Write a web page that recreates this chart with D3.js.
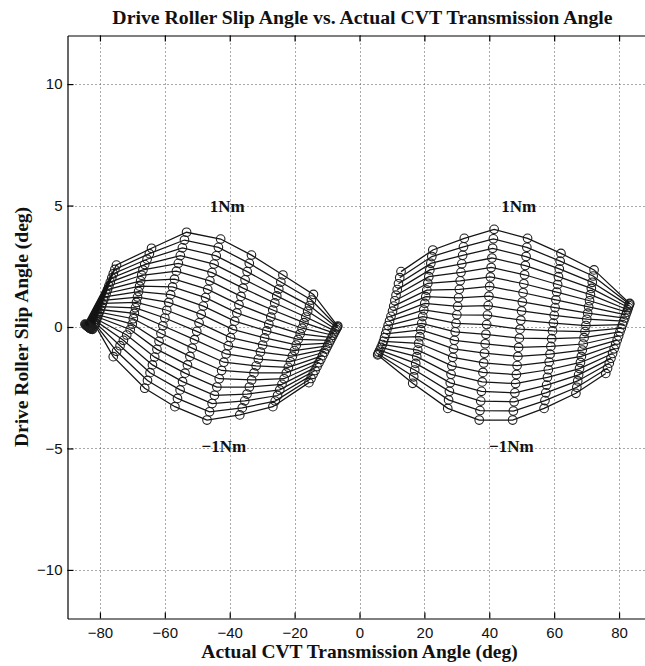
<!DOCTYPE html>
<html>
<head>
<meta charset="utf-8">
<script src="https://cdn.jsdelivr.net/npm/d3@7"></script>
<style>
  body { margin: 0; background: #fff; }
  svg { display: block; }
</style>
</head>
<body>
<script>
// Input torque levels (Nm); each level is one curve through every station.
const torques = [-1.0,-0.9,-0.8,-0.7,-0.6,-0.5,-0.4,-0.3,-0.2,-0.1,0.0,0.1,0.2,0.3,0.4,0.5,0.6,0.7,0.8,0.9,1.0];

// Negative-angle branch: one row per commanded angle station, values ordered -1Nm .. 1Nm.
const leftAngle = [
  [-82.3,-82.5,-82.6,-82.8,-82.9,-83.0,-83.1,-83.2,-83.3,-83.4,-83.5,-83.6,-83.7,-83.8,-83.9,-84.0,-84.1,-84.2,-84.3,-84.5,-84.6],
  [-81.60,-81.52,-81.39,-81.21,-81.00,-80.76,-80.50,-80.21,-79.90,-79.58,-79.23,-78.87,-78.48,-78.09,-77.67,-77.25,-76.80,-76.35,-75.88,-75.40,-74.90],
  [-75.90,-74.87,-73.80,-72.77,-71.74,-70.67,-70.03,-69.71,-69.39,-69.06,-68.74,-68.42,-68.09,-67.77,-67.45,-67.12,-66.75,-66.20,-65.47,-64.77,-64.10],
  [-66.20,-65.35,-64.56,-63.82,-63.12,-62.43,-61.78,-61.19,-60.59,-60.00,-59.40,-58.81,-58.21,-57.62,-57.02,-56.43,-55.83,-55.22,-54.59,-53.95,-53.30],
  [-56.90,-56.10,-55.29,-54.54,-53.78,-53.03,-52.27,-51.57,-50.86,-50.16,-49.45,-48.80,-48.14,-47.44,-46.78,-46.13,-45.47,-44.82,-44.16,-43.49,-42.80],
  [-47.00,-46.22,-45.43,-44.70,-43.96,-43.23,-42.49,-41.81,-41.12,-40.44,-39.75,-39.12,-38.48,-37.80,-37.16,-36.53,-35.89,-35.26,-34.62,-33.97,-33.30],
  [-36.90,-36.14,-35.37,-34.66,-33.94,-33.23,-32.51,-31.85,-31.18,-30.52,-29.85,-29.24,-28.62,-27.96,-27.34,-26.73,-26.11,-25.50,-24.88,-24.25,-23.60],
  [-26.70,-25.98,-25.25,-24.58,-23.90,-23.23,-22.55,-21.93,-21.30,-20.68,-20.05,-19.48,-18.90,-18.28,-17.70,-17.13,-16.55,-15.98,-15.40,-14.81,-14.20],
  [-15.60,-14.94,-14.30,-13.68,-13.07,-12.49,-11.92,-11.36,-10.84,-10.33,-9.85,-9.39,-8.95,-8.54,-8.16,-7.81,-7.49,-7.22,-6.98,-6.80,-6.70]
];
const leftSlip = [
  [-0.10,-0.09,-0.08,-0.07,-0.06,-0.05,-0.04,-0.03,-0.02,-0.01,0.00,0.01,0.02,0.03,0.04,0.05,0.06,0.08,0.09,0.10,0.12],
  [0.10,0.13,0.18,0.24,0.32,0.41,0.50,0.61,0.72,0.84,0.97,1.10,1.24,1.38,1.54,1.69,1.85,2.02,2.19,2.37,2.55],
  [-1.22,-1.00,-0.77,-0.55,-0.33,-0.10,0.12,0.34,0.56,0.79,1.01,1.23,1.46,1.68,1.90,2.13,2.35,2.57,2.79,3.02,3.24],
  [-2.52,-2.20,-1.88,-1.56,-1.24,-0.92,-0.59,-0.27,0.05,0.37,0.69,1.01,1.33,1.65,1.97,2.30,2.62,2.94,3.26,3.58,3.90],
  [-3.28,-2.94,-2.59,-2.25,-1.90,-1.56,-1.21,-0.87,-0.52,-0.18,0.17,0.52,0.86,1.21,1.55,1.90,2.24,2.59,2.93,3.28,3.62],
  [-3.83,-3.49,-3.15,-2.81,-2.47,-2.13,-1.79,-1.45,-1.11,-0.77,-0.44,-0.10,0.24,0.58,0.92,1.26,1.60,1.94,2.28,2.62,2.96],
  [-3.62,-3.33,-3.04,-2.76,-2.47,-2.18,-1.89,-1.60,-1.32,-1.03,-0.74,-0.45,-0.16,0.12,0.41,0.70,0.99,1.28,1.56,1.85,2.14],
  [-3.28,-3.05,-2.82,-2.59,-2.36,-2.13,-1.89,-1.66,-1.43,-1.20,-0.97,-0.74,-0.51,-0.28,-0.05,0.18,0.41,0.65,0.88,1.11,1.34],
  [-2.29,-2.12,-1.95,-1.79,-1.63,-1.47,-1.33,-1.18,-1.04,-0.91,-0.78,-0.66,-0.55,-0.44,-0.34,-0.25,-0.17,-0.10,-0.03,0.01,0.04]
];

// Positive-angle branch, same layout.
const rightAngle = [
  [5.60,5.74,5.97,6.28,6.65,7.06,7.40,7.72,8.07,8.44,8.82,9.26,9.70,10.18,10.55,10.90,11.26,11.63,12.01,12.40,12.80],
  [16.40,16.71,17.02,17.33,17.64,17.95,18.26,18.57,18.88,19.19,19.50,19.81,20.12,20.43,20.74,21.05,21.36,21.67,21.98,22.29,22.60],
  [27.20,27.46,27.71,27.97,28.22,28.48,28.73,28.99,29.24,29.50,29.75,30.01,30.26,30.52,30.77,31.03,31.28,31.54,31.79,32.05,32.30],
  [36.90,37.13,37.36,37.59,37.82,38.05,38.28,38.51,38.74,38.97,39.20,39.43,39.66,39.89,40.12,40.35,40.58,40.81,41.04,41.27,41.50],
  [47.20,47.43,47.66,47.89,48.12,48.35,48.58,48.81,49.04,49.27,49.50,49.73,49.96,50.19,50.42,50.65,50.88,51.11,51.34,51.57,51.80],
  [56.90,57.16,57.42,57.68,57.94,58.20,58.46,58.72,58.98,59.24,59.50,59.76,60.02,60.28,60.54,60.80,61.06,61.32,61.58,61.84,62.10],
  [66.70,66.98,67.26,67.54,67.82,68.10,68.38,68.66,68.94,69.22,69.50,69.78,70.06,70.34,70.62,70.90,71.18,71.46,71.74,72.02,72.30],
  [75.90,76.45,76.98,77.50,78.00,78.49,78.96,79.42,79.86,80.28,80.68,81.07,81.43,81.77,82.09,82.38,82.64,82.87,83.06,83.22,83.30]
];
const rightSlip = [
  [-1.15,-1.11,-1.04,-0.95,-0.84,-0.72,-0.59,-0.44,-0.28,-0.11,0.06,0.25,0.44,0.65,0.86,1.08,1.31,1.54,1.78,2.03,2.28],
  [-2.32,-2.05,-1.77,-1.50,-1.22,-0.95,-0.67,-0.40,-0.12,0.15,0.43,0.70,0.97,1.25,1.52,1.80,2.07,2.35,2.62,2.90,3.17],
  [-3.35,-3.00,-2.65,-2.30,-1.95,-1.60,-1.25,-0.90,-0.55,-0.20,0.15,0.50,0.85,1.20,1.55,1.90,2.25,2.60,2.95,3.30,3.65],
  [-3.83,-3.44,-3.05,-2.65,-2.26,-1.87,-1.48,-1.08,-0.69,-0.30,0.10,0.49,0.88,1.27,1.67,2.06,2.45,2.84,3.24,3.63,4.02],
  [-3.83,-3.46,-3.08,-2.71,-2.33,-1.96,-1.59,-1.21,-0.84,-0.46,-0.09,0.28,0.66,1.03,1.41,1.78,2.15,2.53,2.90,3.28,3.65],
  [-3.35,-3.03,-2.71,-2.39,-2.07,-1.76,-1.44,-1.12,-0.80,-0.48,-0.16,0.16,0.48,0.80,1.12,1.44,1.75,2.07,2.39,2.71,3.03],
  [-2.73,-2.48,-2.22,-1.97,-1.71,-1.46,-1.21,-0.95,-0.70,-0.44,-0.19,0.06,0.32,0.57,0.83,1.08,1.33,1.59,1.84,2.10,2.35],
  [-1.91,-1.70,-1.49,-1.29,-1.09,-0.90,-0.72,-0.54,-0.37,-0.20,-0.05,0.10,0.24,0.37,0.50,0.61,0.71,0.80,0.88,0.94,0.97]
];

const xTicks = [-80,-60,-40,-20,0,20,40,60,80];
const yTicks = [-10,-5,0,5,10];
const xDomain = [-90, 90];
const yDomain = [-12, 12];

// Torque annotations, placed in data units.
const noteText = ["1Nm", "1Nm", "\u22121Nm", "\u22121Nm"];
const noteAngle = [-40.8, 49.1, -41.8, 46.8];
const noteSlip = [4.73, 4.73, -5.14, -5.14];

const titleText = "Drive Roller Slip Angle vs. Actual CVT Transmission Angle";
const xLabelText = "Actual CVT Transmission Angle (deg)";
const yLabelText = "Drive Roller Slip Angle (deg)";

// ---- layout ----
const W = 645, H = 666;
const plotLeft = 67.5, plotRight = 651.5, plotTop = 35.5, plotBottom = 618.5;
const serif = "'Liberation Serif', 'Times New Roman', serif";
const sans = "'Liberation Sans', Arial, Helvetica, sans-serif";

const svg = d3.select("body").append("svg")
  .attr("width", W).attr("height", H)
  .attr("viewBox", `0 0 ${W} ${H}`);

const x = d3.scaleLinear().domain(xDomain).range([plotLeft, plotRight]);
const y = d3.scaleLinear().domain(yDomain).range([plotBottom, plotTop]);

svg.append("defs").append("clipPath").attr("id", "plotClip")
  .append("rect")
  .attr("x", plotLeft).attr("y", plotTop)
  .attr("width", plotRight - plotLeft).attr("height", plotBottom - plotTop);

// dotted grid
const grid = svg.append("g").attr("class", "grid")
  .attr("stroke", "#555").attr("stroke-width", 1)
  .attr("stroke-dasharray", "1,3");
grid.selectAll("line.gx").data(xTicks).join("line").attr("class", "gx")
  .attr("x1", d => Math.round(x(d)) + 0.5).attr("x2", d => Math.round(x(d)) + 0.5)
  .attr("y1", plotTop).attr("y2", plotBottom);
grid.selectAll("line.gy").data(yTicks).join("line").attr("class", "gy")
  .attr("y1", d => Math.round(y(d)) + 0.5).attr("y2", d => Math.round(y(d)) + 0.5)
  .attr("x1", plotLeft).attr("x2", plotRight);

// curves: one polyline per torque level on each branch
function branchCurves(angles, slips) {
  return torques.map((t, i) => angles.map((col, c) => [col[i], slips[c][i]]));
}
const curves = branchCurves(leftAngle, leftSlip).concat(branchCurves(rightAngle, rightSlip));

const plot = svg.append("g").attr("clip-path", "url(#plotClip)");
const line = d3.line().x(d => x(d[0])).y(d => y(d[1]));

const series = plot.selectAll("g.curve").data(curves).join("g").attr("class", "curve");
series.append("path")
  .attr("d", line)
  .attr("fill", "none")
  .attr("stroke", "#141414")
  .attr("stroke-width", 1.25);
series.selectAll("circle").data(d => d).join("circle")
  .attr("cx", d => x(d[0])).attr("cy", d => y(d[1]))
  .attr("r", 4.3)
  .attr("fill", "none")
  .attr("stroke", "#1e1e1e")
  .attr("stroke-width", 1.1);

// torque annotations
svg.append("g").selectAll("text").data(noteText).join("text")
  .attr("x", (d, i) => x(noteAngle[i]))
  .attr("y", (d, i) => y(noteSlip[i]))
  .attr("text-anchor", "middle")
  .attr("font-family", serif).attr("font-weight", "bold")
  .attr("font-size", 17).attr("fill", "#111")
  .text(d => d);

// axes with inward ticks
const fmt = d3.format("d");
const axisStyle = g => {
  g.selectAll("path.domain").attr("stroke", "#000").attr("stroke-width", 1.2);
  g.selectAll(".tick line").attr("stroke", "#000").attr("stroke-width", 1.2);
  g.selectAll(".tick text").attr("font-family", sans).attr("font-size", 15).attr("fill", "#111");
};
svg.append("g").attr("transform", `translate(0,${plotBottom})`)
  .call(d3.axisBottom(x).tickValues(xTicks).tickFormat(fmt).tickSize(-6).tickSizeOuter(0).tickPadding(9))
  .call(axisStyle);
svg.append("g").attr("transform", `translate(0,${plotTop})`)
  .call(d3.axisTop(x).tickValues(xTicks).tickFormat("").tickSize(-6).tickSizeOuter(0))
  .call(axisStyle);
svg.append("g").attr("transform", `translate(${plotLeft},0)`)
  .call(d3.axisLeft(y).tickValues(yTicks).tickFormat(fmt).tickSize(-6).tickSizeOuter(0).tickPadding(5))
  .call(axisStyle);
svg.append("g").attr("transform", `translate(${plotRight},0)`)
  .call(d3.axisRight(y).tickValues(yTicks).tickFormat("").tickSize(-6).tickSizeOuter(0))
  .call(axisStyle);
svg.selectAll(".domain").attr("fill", "none");

// titles
svg.append("text")
  .attr("x", (plotLeft + plotRight) / 2 + 3).attr("y", 24)
  .attr("text-anchor", "middle")
  .attr("font-family", serif).attr("font-weight", "bold").attr("font-size", 19.8)
  .attr("fill", "#111")
  .text(titleText);
svg.append("text")
  .attr("x", (plotLeft + plotRight) / 2).attr("y", 658)
  .attr("text-anchor", "middle")
  .attr("font-family", serif).attr("font-weight", "bold").attr("font-size", 19.5)
  .attr("fill", "#111")
  .text(xLabelText);
svg.append("text")
  .attr("transform", `translate(28,${(plotTop + plotBottom) / 2}) rotate(-90)`)
  .attr("text-anchor", "middle")
  .attr("font-family", serif).attr("font-weight", "bold").attr("font-size", 19.5)
  .attr("fill", "#111")
  .text(yLabelText);
</script>
</body>
</html>
